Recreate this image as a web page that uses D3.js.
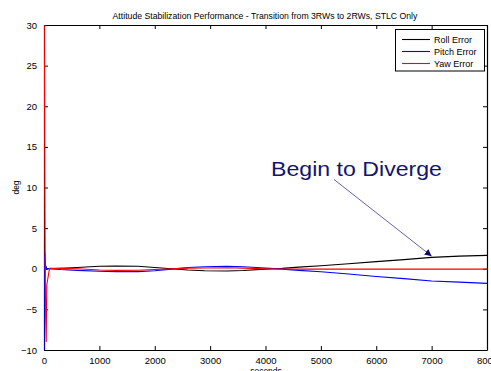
<!DOCTYPE html>
<html>
<head>
<meta charset="utf-8">
<script src="https://cdn.jsdelivr.net/npm/d3@7"></script>
<style>
  body { margin: 0; background: #fff; }
  svg { display: block; font-family: Arial, "Liberation Sans", sans-serif; }
</style>
</head>
<body>
<script>
// time axis (seconds) and the three error series (deg)
var time  = [0, 3, 5, 10, 15, 20, 30, 40, 50, 100, 300, 600, 1000, 1300, 1700, 2000, 2300, 2600, 2900, 3300, 3600, 4000, 4300, 4600, 5000, 5500, 6000, 6500, 7000, 7500, 8000];
var roll  = [40, 28, 15, -3, 2, 1, 0, 0.2, 0, 0, 0.05, 0.15, 0.3, 0.32, 0.3, 0.15, 0, -0.15, -0.25, -0.27, -0.22, -0.05, 0.05, 0.2, 0.37, 0.62, 0.88, 1.12, 1.4, 1.55, 1.65];
var pitch = [2, -11, -6, 1.5, -1, 0.5, 0.3, 0, 0, 0, -0.1, -0.2, -0.3, -0.35, -0.35, -0.25, -0.05, 0.15, 0.25, 0.3, 0.25, 0.1, -0.05, -0.2, -0.37, -0.65, -0.95, -1.22, -1.5, -1.65, -1.8];
var yaw   = [35, 32, 30, 22, 10, 2, -6, -9, -2, 0.05, 0.05, 0, -0.15, -0.2, -0.18, -0.1, 0, 0.08, 0.1, 0.12, 0.08, 0, -0.03, -0.05, -0.05, -0.05, -0.05, -0.05, -0.05, -0.05, -0.05];

var series = [
  {name: 'Roll Error',  values: roll,  color: '#000000'},
  {name: 'Pitch Error', values: pitch, color: '#0000ff'},
  {name: 'Yaw Error',   values: yaw,   color: '#ff0000'}
];

var xTicks = [0, 1000, 2000, 3000, 4000, 5000, 6000, 7000, 8000];
var yTicks = [-10, -5, 0, 5, 10, 15, 20, 25, 30];

var w = 491, h = 371;
var pLeft = 44, pRight = 487, pTop = 25, pBottom = 350;

var x = d3.scaleLinear().domain([0, 8000]).range([pLeft, pRight]);
var y = d3.scaleLinear().domain([-10, 30]).range([pBottom, pTop]);

var svg = d3.select('body').append('svg')
  .attr('width', w)
  .attr('height', h);

svg.append('clipPath').attr('id', 'clip')
  .append('rect')
  .attr('x', pLeft).attr('y', pTop)
  .attr('width', pRight - pLeft).attr('height', pBottom - pTop);

// axes (matlab style box, ticks inside)
var tl = 4;
svg.append('g')
  .attr('transform', 'translate(0,' + pBottom + ')')
  .call(d3.axisBottom(x).tickValues(xTicks).tickSize(-tl).tickPadding(7).tickSizeOuter(0).tickFormat(d3.format('d')));
svg.append('g')
  .attr('transform', 'translate(0,' + pTop + ')')
  .call(d3.axisTop(x).tickValues(xTicks).tickSize(-tl).tickFormat('').tickSizeOuter(0));
svg.append('g')
  .attr('transform', 'translate(' + pLeft + ',0)')
  .call(d3.axisLeft(y).tickValues(yTicks).tickSize(-tl).tickPadding(7).tickSizeOuter(0));
svg.append('g')
  .attr('transform', 'translate(' + pRight + ',0)')
  .call(d3.axisRight(y).tickValues(yTicks).tickSize(-tl).tickFormat('').tickSizeOuter(0));

svg.selectAll('.domain').attr('stroke', '#000').attr('stroke-width', 1.2);
svg.selectAll('.tick line').attr('stroke', '#000');
svg.selectAll('.tick text')
  .attr('font-size', '9.5px')
  .attr('font-family', 'Arial, "Liberation Sans", sans-serif')
  .attr('fill', '#000');

// data lines, drawn over the box like the original
var line = d3.line()
  .x(function(d, i) { return x(time[i]); })
  .y(function(d) { return y(d); });

svg.append('g')
  .attr('clip-path', 'url(#clip)')
  .selectAll('path')
  .data(series)
  .enter()
  .append('path')
  .attr('d', function(s) { return line(s.values); })
  .attr('fill', 'none')
  .attr('stroke', function(s) { return s.color; })
  .attr('stroke-width', 1.1);

// labels
svg.append('text')
  .attr('x', 265).attr('y', 18.5)
  .attr('text-anchor', 'middle')
  .attr('font-size', '8.7px')
  .text('Attitude Stabilization Performance - Transition from 3RWs to 2RWs, STLC Only');

svg.append('text')
  .attr('text-anchor', 'middle')
  .attr('transform', 'translate(19,' + ((pTop + pBottom) / 2) + ')rotate(-90)')
  .attr('font-size', '8.5px')
  .text('deg');

svg.append('text')
  .attr('x', 266).attr('y', 374)
  .attr('text-anchor', 'middle')
  .attr('font-size', '8.5px')
  .text('seconds');

// legend
var legend = svg.append('g');
legend.append('rect')
  .attr('x', 395.5).attr('y', 29.5)
  .attr('width', 89).attr('height', 41.5)
  .attr('fill', '#fff')
  .attr('stroke', '#000')
  .attr('stroke-width', 1);

series.forEach(function(s, i) {
  var ly = 39.5 + i * 12;
  legend.append('line')
    .attr('x1', 402).attr('x2', 430)
    .attr('y1', ly).attr('y2', ly)
    .style('stroke', s.color)
    .style('stroke-width', 1.1);
  legend.append('text')
    .attr('x', 434).attr('y', ly + 3.3)
    .attr('font-size', '9px')
    .text(s.name);
});

// annotation
svg.append('defs').append('marker')
  .attr('id', 'arrow')
  .attr('viewBox', '0 0 10 10')
  .attr('refX', 10).attr('refY', 5)
  .attr('markerWidth', 7).attr('markerHeight', 7)
  .attr('markerUnits', 'userSpaceOnUse')
  .attr('orient', 'auto')
  .append('path')
  .attr('d', 'M0,0 L10,5 L0,10 z')
  .attr('fill', '#0a0a6e');

svg.append('line')
  .attr('x1', 334).attr('y1', 179.5)
  .attr('x2', x(7000)).attr('y2', y(1.55))
  .attr('stroke', '#1e1e8c')
  .attr('stroke-width', 0.7)
  .attr('marker-end', 'url(#arrow)');

svg.append('text')
  .attr('x', 271).attr('y', 176)
  .attr('font-size', '20px')
  .attr('textLength', 171)
  .attr('lengthAdjust', 'spacingAndGlyphs')
  .attr('fill', '#14146e')
  .text('Begin to Diverge');
</script>
</body>
</html>
